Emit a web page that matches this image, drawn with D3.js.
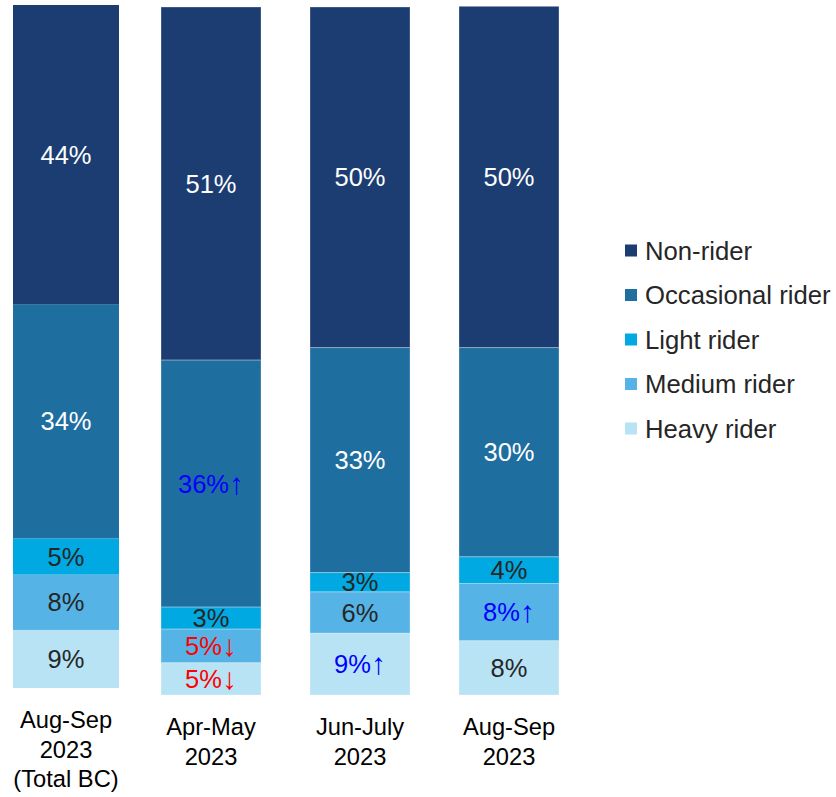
<!DOCTYPE html>
<html>
<head>
<meta charset="utf-8">
<script src="https://cdn.jsdelivr.net/npm/d3@7"></script>
<style>
  body { margin: 0; background: #fff; }
  text { font-family: "Liberation Sans", Arial, sans-serif; }
</style>
</head>
<body>
<div id="chart"></div>
<script>
// bars, left to right
var categories = ["Aug-Sep 2023 (Total BC)", "Apr-May 2023", "Jun-July 2023", "Aug-Sep 2023"];
var categoryLines = [["Aug-Sep", "2023", "(Total BC)"], ["Apr-May", "2023"], ["Jun-July", "2023"], ["Aug-Sep", "2023"]];

// stack order bottom -> top
var seriesNames = ["Heavy rider", "Medium rider", "Light rider", "Occasional rider", "Non-rider"];
var seriesColors = ["#b7e3f5", "#55b3e5", "#00a9e1", "#1f6ea0", "#1c3d72"];

// shares in %, one value per bar
var heavy      = [8.5, 4.7, 9.0, 7.9];
var medium     = [8.1, 4.9, 6.0, 8.3];
var light      = [5.3, 3.2, 2.8, 3.9];
var occasional = [34.3, 35.9, 32.7, 30.4];
var nonRider   = [43.8, 51.3, 49.5, 49.6];

// significant changes: "up" / "down" / ""
var heavySig      = ["", "down", "up", ""];
var mediumSig     = ["", "down", "", "up"];
var lightSig      = ["", "", "", ""];
var occasionalSig = ["", "up", "", ""];
var nonRiderSig   = ["", "", "", ""];

var seriesValues = [heavy, medium, light, occasional, nonRider];
var seriesSig = [heavySig, mediumSig, lightSig, occasionalSig, nonRiderSig];

var rows = categories.map(function(c, i) {
  var r = { category: c, index: i };
  seriesNames.forEach(function(s, k) { r[s] = seriesValues[k][i]; });
  return r;
});

var stacked = d3.stack().keys(seriesNames)(rows);

var svg = d3.select("#chart").append("svg")
  .attr("width", 836)
  .attr("height", 797);

// two panels: total BC on the left, the three waves on the right
var panels = [
  { cats: categories.slice(0, 1), x: d3.scaleBand().range([13, 119]).padding(0),
    y: d3.scaleLinear().domain([0, 100]).range([688, 5]), stroke: "none" },
  { cats: categories.slice(1), x: d3.scaleBand().range([161, 559]).paddingInner(49 / 149).paddingOuter(0),
    y: d3.scaleLinear().domain([0, 100]).range([695, 7]), stroke: "rgba(255,255,255,0.3)" }
];
panels.forEach(function(p) { p.x.domain(p.cats); });

function panelOf(cat) { return cat === categories[0] ? panels[0] : panels[1]; }

var arrows = { up: "\u2191", down: "\u2193", "": "" };

var layer = svg.append("g").selectAll("g")
  .data(stacked)
  .enter().append("g")
    .attr("fill", function(d, k) { return seriesColors[k]; });

layer.selectAll("rect")
  .data(function(d) { return d; })
  .enter().append("rect")
    .attr("x", function(d) { return panelOf(d.data.category).x(d.data.category); })
    .attr("width", function(d) { return panelOf(d.data.category).x.bandwidth(); })
    .attr("y", function(d) { return panelOf(d.data.category).y(d[1]); })
    .attr("height", function(d) { var p = panelOf(d.data.category); return p.y(d[0]) - p.y(d[1]); })
    .attr("stroke", function(d) { return panelOf(d.data.category).stroke; })
    .attr("stroke-width", 1);

// segment labels
stacked.forEach(function(s, k) {
  var t = svg.append("g").selectAll("text")
    .data(s)
    .enter().append("text")
      .attr("x", function(d) { var p = panelOf(d.data.category); return p.x(d.data.category) + p.x.bandwidth() / 2; })
      .attr("y", function(d) { var p = panelOf(d.data.category); return p.y((d[0] + d[1]) / 2); })
      .attr("dy", "0.36em")
      .attr("text-anchor", "middle")
      .style("font-size", "25.5px")
      .attr("fill", function(d) {
        var sig = seriesSig[k][d.data.index];
        if (sig === "up") return "#0000ff";
        if (sig === "down") return "#ff0000";
        return k >= 3 ? "#ffffff" : "#262626";
      });
  t.append("tspan")
    .text(function(d) { return Math.round(d[1] - d[0]) + "%"; });
  t.filter(function(d) { return seriesSig[k][d.data.index] !== ""; })
    .append("tspan")
      .style("font-size", "30px")
      .attr("dy", "0.04em")
      .text(function(d) { return arrows[seriesSig[k][d.data.index]]; });
});

// category axes
panels.forEach(function(p) {
  var ax = svg.append("g")
    .attr("transform", "translate(0," + p.y.range()[0] + ")")
    .call(d3.axisBottom(p.x).tickSize(0).tickPadding(0));
  ax.select(".domain").remove();
  ax.selectAll("text")
    .attr("y", 40)
    .attr("dy", null)
    .attr("fill", "#000")
    .style("font-size", "23.7px")
    .style("font-family", "'Liberation Sans', Arial, sans-serif")
    .text(null)
    .each(function(c) {
      var t = d3.select(this);
      categoryLines[categories.indexOf(c)].forEach(function(line, i) {
        t.append("tspan").attr("x", 0).attr("y", 40 + i * 29.5).text(line);
      });
    });
});

// legend, top to bottom is the reverse of the stack
var legendNames = seriesNames.slice().reverse();
var legendColors = seriesColors.slice().reverse();
var ly = d3.scalePoint().domain(legendNames).range([250.5, 428.5]);

var legend = svg.append("g").selectAll("g")
  .data(legendNames)
  .enter().append("g")
    .attr("transform", function(d) { return "translate(625," + ly(d) + ")"; });

legend.append("rect")
  .attr("x", 0).attr("y", -6)
  .attr("width", 12).attr("height", 12)
  .attr("fill", function(d, i) { return legendColors[i]; });

legend.append("text")
  .attr("x", 20)
  .attr("dy", "0.36em")
  .attr("fill", "#262626")
  .style("font-size", "25.7px")
  .text(function(d) { return d; });
</script>
</body>
</html>
